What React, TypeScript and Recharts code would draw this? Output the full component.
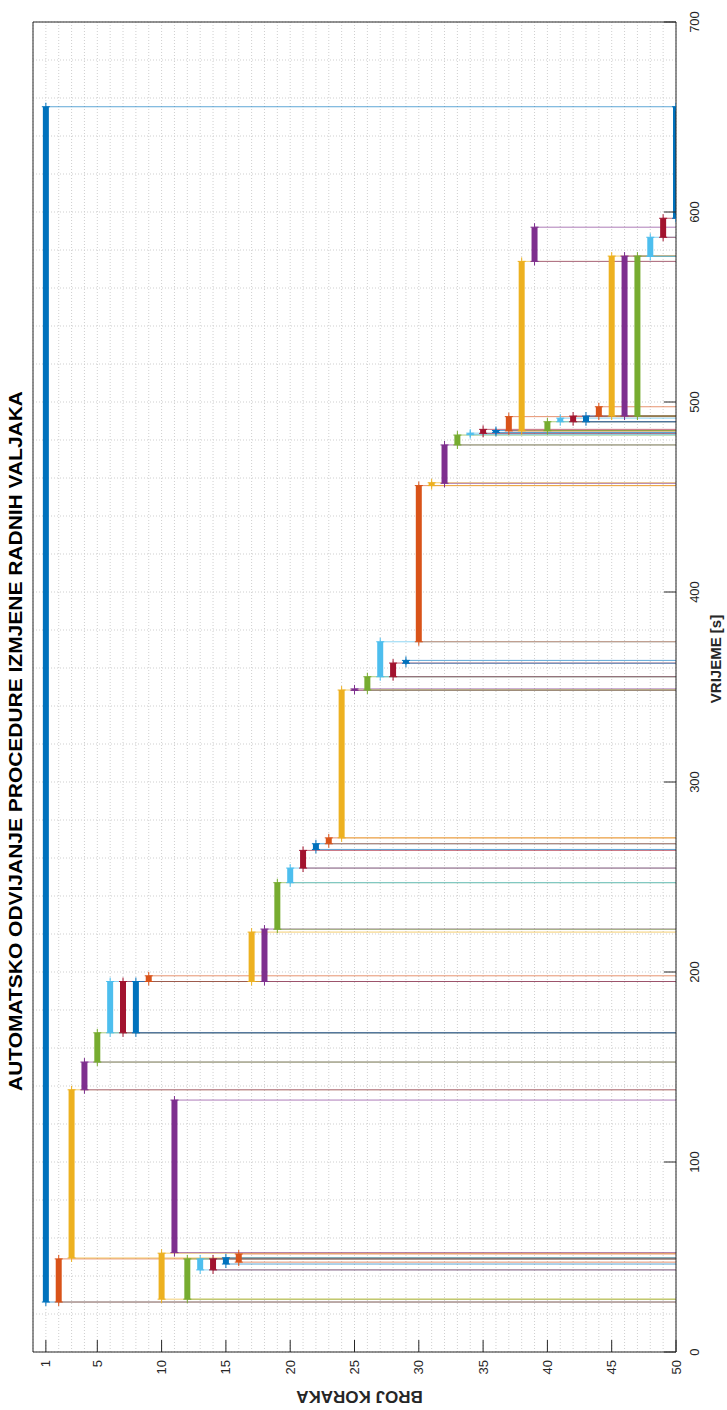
import React from 'react';
import { LineChart, Line, XAxis, YAxis, CartesianGrid, Label } from 'recharts';

// The MATLAB figure is drawn the usual way (time across, steps down) and the whole
// block is then turned 90deg to the left, like the scanned reference page.
const FIG_W = 1410;
const FIG_H = 727;

const stepNumbers = [
  1, 2, 3, 4, 5, 6, 7, 8, 9, 10, 11, 12, 13, 14, 15, 16, 17, 18, 19, 20, 21, 22, 23, 24, 25,
  26, 27, 28, 29, 30, 31, 32, 33, 34, 35, 36, 37, 38, 39, 40, 41, 42, 43, 44, 45, 46, 47, 48, 49, 50,
];

// start / end of every step in seconds
const startTimes = [
  26.3, 26.3, 49.5, 138, 152.6, 168, 168, 168, 195, 27.8,
  52.3, 27.8, 43.2, 43.2, 46.3, 47.3, 195, 195, 222.5, 247,
  254.7, 264.5, 267.5, 270.6, 348.2, 348.4, 355.4, 355.4, 362.5, 373.8,
  456, 457.2, 477.4, 482.8, 483.5, 484, 484.8, 484.8, 574, 484.9,
  489.6, 489.6, 489.6, 492.6, 492.6, 492.6, 492.6, 576.6, 586.7, 596.7,
];
const endTimes = [
  655.4, 49, 138, 152.6, 168, 195, 195, 195, 198, 52,
  132.6, 49, 49, 49, 49.6, 51.6, 221, 222.6, 247, 254.7,
  264, 267.5, 270.6, 348.4, 349, 355.4, 373.8, 362.6, 364, 456,
  457.5, 477.4, 482.6, 483.6, 485.6, 485, 492.3, 574, 592, 489.6,
  491.5, 492.6, 492.6, 497.5, 576.8, 576.8, 576.8, 586.7, 596.7, 655.4,
];

const timeTicks = [
  0, 20, 40, 60, 80, 100, 120, 140, 160, 180, 200, 220, 240, 260, 280, 300, 320, 340,
  360, 380, 400, 420, 440, 460, 480, 500, 520, 540, 560, 580, 600, 620, 640, 660, 680, 700,
];
const timeLabels = [0, 100, 200, 300, 400, 500, 600, 700];
const stepTicks = [
  0, 1, 2, 3, 4, 5, 6, 7, 8, 9, 10, 11, 12, 13, 14, 15, 16, 17, 18, 19, 20, 21, 22, 23, 24, 25,
  26, 27, 28, 29, 30, 31, 32, 33, 34, 35, 36, 37, 38, 39, 40, 41, 42, 43, 44, 45, 46, 47, 48, 49, 50,
];
const stepLabels = [1, 5, 10, 15, 20, 25, 30, 35, 40, 45, 50];

// MATLAB default colour order
const lineColors = ['#0072BD', '#D95319', '#EDB120', '#7E2F8E', '#77AC30', '#4DBEEE', '#A2142F'];

const TITLE = 'AUTOMATSKO ODVIJANJE PROCEDURE IZMJENE RADNIH VALJAKA';
const AXIS = '#262626';
const FONT = '"Liberation Sans", Arial, Helvetica, sans-serif';
const TICK_LEN = 12;

const colorOf = (i: number) => lineColors[i % lineColors.length];

// '+' marker at both ends of a step bar
const plusDot = (color: string) => (props: any) => {
  const { cx, cy, index } = props;
  if (cx == null || cy == null) return <g key={`e-${index}`} />;
  return (
    <g key={`p-${index}-${cx}`}>
      <line x1={cx - 4} x2={cx + 4} y1={cy} y2={cy} stroke={color} strokeWidth={1} />
      <line x1={cx} x2={cx} y1={cy - 4} y2={cy + 4} stroke={color} strokeWidth={1} />
    </g>
  );
};

const TimeTick = (props: any) => {
  const { x, y, payload } = props;
  if (!timeLabels.includes(payload.value)) return <g />;
  return (
    <g>
      <line x1={x} x2={x} y1={y} y2={y - TICK_LEN} stroke={AXIS} />
      <text x={x} y={y + 23} textAnchor="middle" fontSize={13} fill={AXIS} fontFamily={FONT}>
        {payload.value}
      </text>
    </g>
  );
};

const TopTick = (props: any) => {
  const { x, y, payload } = props;
  if (!timeLabels.includes(payload.value)) return <g />;
  return <line x1={x} x2={x} y1={y} y2={y + TICK_LEN} stroke={AXIS} />;
};

const StepTick = (props: any) => {
  const { x, y, payload } = props;
  if (!stepLabels.includes(payload.value)) return <g />;
  return (
    <g>
      <line x1={x} x2={x + TICK_LEN} y1={y} y2={y} stroke={AXIS} />
      <text x={x - 8} y={y + 4.5} textAnchor="end" fontSize={13} fill={AXIS} fontFamily={FONT}>
        {payload.value}
      </text>
    </g>
  );
};

const RightTick = (props: any) => {
  const { x, y, payload } = props;
  if (!stepLabels.includes(payload.value)) return <g />;
  return <line x1={x} x2={x - TICK_LEN} y1={y} y2={y} stroke={AXIS} />;
};

const timeLabel = (props: any) => {
  const { x, y, width } = props.viewBox;
  return (
    <text x={x + width / 2 + 28} y={y + 45} textAnchor="middle" fontSize={15} fontWeight="bold" fill={AXIS} fontFamily={FONT}>
      VRIJEME [s]
    </text>
  );
};

const stepLabel = (props: any) => {
  const { y, height } = props.viewBox;
  const cx = 14;
  const cy = y + height / 2 + 5;
  return (
    <text
      x={cx}
      y={cy}
      transform={`rotate(-90 ${cx} ${cy})`}
      dy={5}
      textAnchor="middle"
      fontSize={17}
      fontWeight="bold"
      fill={AXIS}
      fontFamily={FONT}
    >
      BROJ KORAKA
    </text>
  );
};

const App = () => {
  return (
    <div style={{ position: 'absolute', left: 0, top: 0, width: FIG_H, height: FIG_W, overflow: 'hidden', background: '#fff' }}>
      <div
        style={{
          position: 'absolute',
          left: 0,
          top: 0,
          width: FIG_W,
          height: FIG_H,
          transformOrigin: '0 0',
          transform: `translate(0px, ${FIG_W}px) rotate(-90deg)`,
          background: '#fff',
        }}
      >
        <svg width={FIG_W} height={30} style={{ position: 'absolute', left: 0, top: 0 }}>
          <text
            x={669}
            y={22}
            textAnchor="middle"
            textLength={700}
            lengthAdjust="spacingAndGlyphs"
            fontSize={19}
            fontWeight="bold"
            fill="#000"
            fontFamily={FONT}
          >
            {TITLE}
          </text>
        </svg>
        <LineChart width={FIG_W} height={FIG_H} margin={{ top: 0, right: 0, bottom: 0, left: 0 }}>
          <CartesianGrid stroke="#cfcfcf" strokeDasharray="1 2" />
          <XAxis
            xAxisId={0}
            dataKey="t"
            type="number"
            domain={[0, 700]}
            ticks={timeTicks}
            interval={0}
            allowDataOverflow
            height={51}
            tickLine={false}
            tickSize={0}
            tickMargin={0}
            axisLine={{ stroke: AXIS }}
            tick={<TimeTick />}
          >
            <Label content={timeLabel} />
          </XAxis>
          <XAxis
            xAxisId="top"
            orientation="top"
            type="number"
            domain={[0, 700]}
            ticks={timeLabels}
            interval={0}
            height={33}
            tickLine={false}
            tickSize={0}
            tickMargin={0}
            axisLine={{ stroke: AXIS }}
            tick={<TopTick />}
          />
          <YAxis
            yAxisId={0}
            type="number"
            domain={[0, 50]}
            reversed
            ticks={stepTicks}
            interval={0}
            allowDataOverflow
            width={58}
            tickLine={false}
            tickSize={0}
            tickMargin={0}
            axisLine={{ stroke: AXIS }}
            tick={<StepTick />}
          >
            <Label content={stepLabel} />
          </YAxis>
          <YAxis
            yAxisId="right"
            orientation="right"
            type="number"
            domain={[0, 50]}
            reversed
            ticks={stepLabels}
            interval={0}
            width={22}
            tickLine={false}
            tickSize={0}
            tickMargin={0}
            axisLine={{ stroke: AXIS }}
            tick={<RightTick />}
          />

          {/* thin guide lines from each step start/end down to the last step, step by step */}
          {stepNumbers.flatMap((step, i) => [
            <Line
              key={`start-${step}`}
              data={[
                { t: startTimes[i], s: step },
                { t: startTimes[i], s: 50 },
              ]}
              dataKey="s"
              stroke={colorOf(i)}
              strokeWidth={0.9}
              strokeOpacity={0.7}
              dot={false}
              activeDot={false}
              isAnimationActive={false}
            />,
            <Line
              key={`end-${step}`}
              data={[
                { t: endTimes[i], s: step },
                { t: endTimes[i], s: 50 },
              ]}
              dataKey="s"
              stroke={colorOf(i)}
              strokeWidth={0.9}
              strokeOpacity={0.7}
              dot={false}
              activeDot={false}
              isAnimationActive={false}
            />,
          ])}

          {/* thick bar = duration of each step */}
          {stepNumbers.map((step, i) => (
            <Line
              key={`bar-${step}`}
              data={[
                { t: startTimes[i], s: step },
                { t: endTimes[i], s: step },
              ]}
              dataKey="s"
              stroke={colorOf(i)}
              strokeWidth={6}
              dot={plusDot(colorOf(i))}
              activeDot={false}
              isAnimationActive={false}
            />
          ))}
        </LineChart>
      </div>
    </div>
  );
};

export default App;
